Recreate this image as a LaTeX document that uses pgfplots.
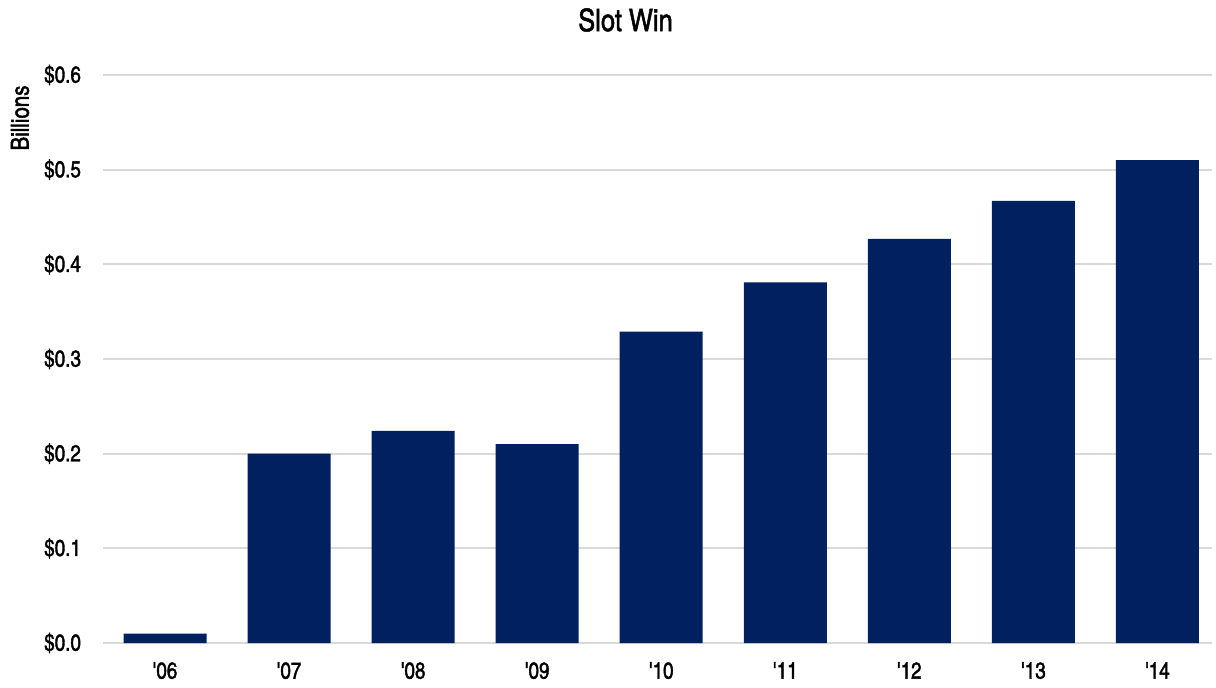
\documentclass[border=0pt]{standalone}
\usepackage{fontspec}
\setmainfont{texgyreheroscn}[Extension=.otf, UprightFont=*-regular, BoldFont=*-bold, ItalicFont=*-italic, BoldItalicFont=*-bolditalic, FakeBold=1.6]
\usepackage{pgfplots}
\pgfplotsset{compat=1.18}
\definecolor{barnavy}{HTML}{002060}
\definecolor{gridgray}{HTML}{D9D9D9}
\begin{document}
\begin{tikzpicture}
\begin{axis}[name=ax, scale only axis, width=554.5pt, height=284pt,
  xmin=-0.5, xmax=8.44, ymin=0, ymax=0.6,
  axis line style={draw=none}, major tick length=0pt,
  ymajorgrids, grid style={gridgray, line width=0.9pt},
  ytick={0,0.1,0.2,0.3,0.4,0.5,0.6},
  yticklabels={\$0.0,\$0.1,\$0.2,\$0.3,\$0.4,\$0.5,\$0.6},
  xtick={0,...,8},
  xticklabels={\textquotesingle06,\textquotesingle07,\textquotesingle08,\textquotesingle09,\textquotesingle10,\textquotesingle11,\textquotesingle12,\textquotesingle13,\textquotesingle14},
  tick label style={font=\fontsize{11.5}{13}\selectfont, text=black},
  yticklabel style={xshift=-7.5pt},
  xticklabel style={yshift=-6pt},
  clip=false]
  \addplot[ybar, bar width=41.5pt, fill=barnavy, draw=none]
    coordinates {(0,0.010)(1,0.200)(2,0.224)(3,0.210)(4,0.329)(5,0.381)(6,0.427)(7,0.467)(8,0.510)};
  \node[xshift=-41.5pt, yshift=-21.5pt, rotate=90, font=\fontsize{12.5}{14}\selectfont] at (rel axis cs:0,1) {Billions};
  \node[xshift=-16pt, yshift=27.5pt, font=\fontsize{15.5}{18}\selectfont] at (rel axis cs:0.5,1) {Slot Win};
\end{axis}
\pgfresetboundingbox
\path[use as bounding box] ([shift={(-51.5pt,-22.5pt)}]ax.south west) rectangle ([shift={(2pt,37.5pt)}]ax.north east);
\end{tikzpicture}
\end{document}
